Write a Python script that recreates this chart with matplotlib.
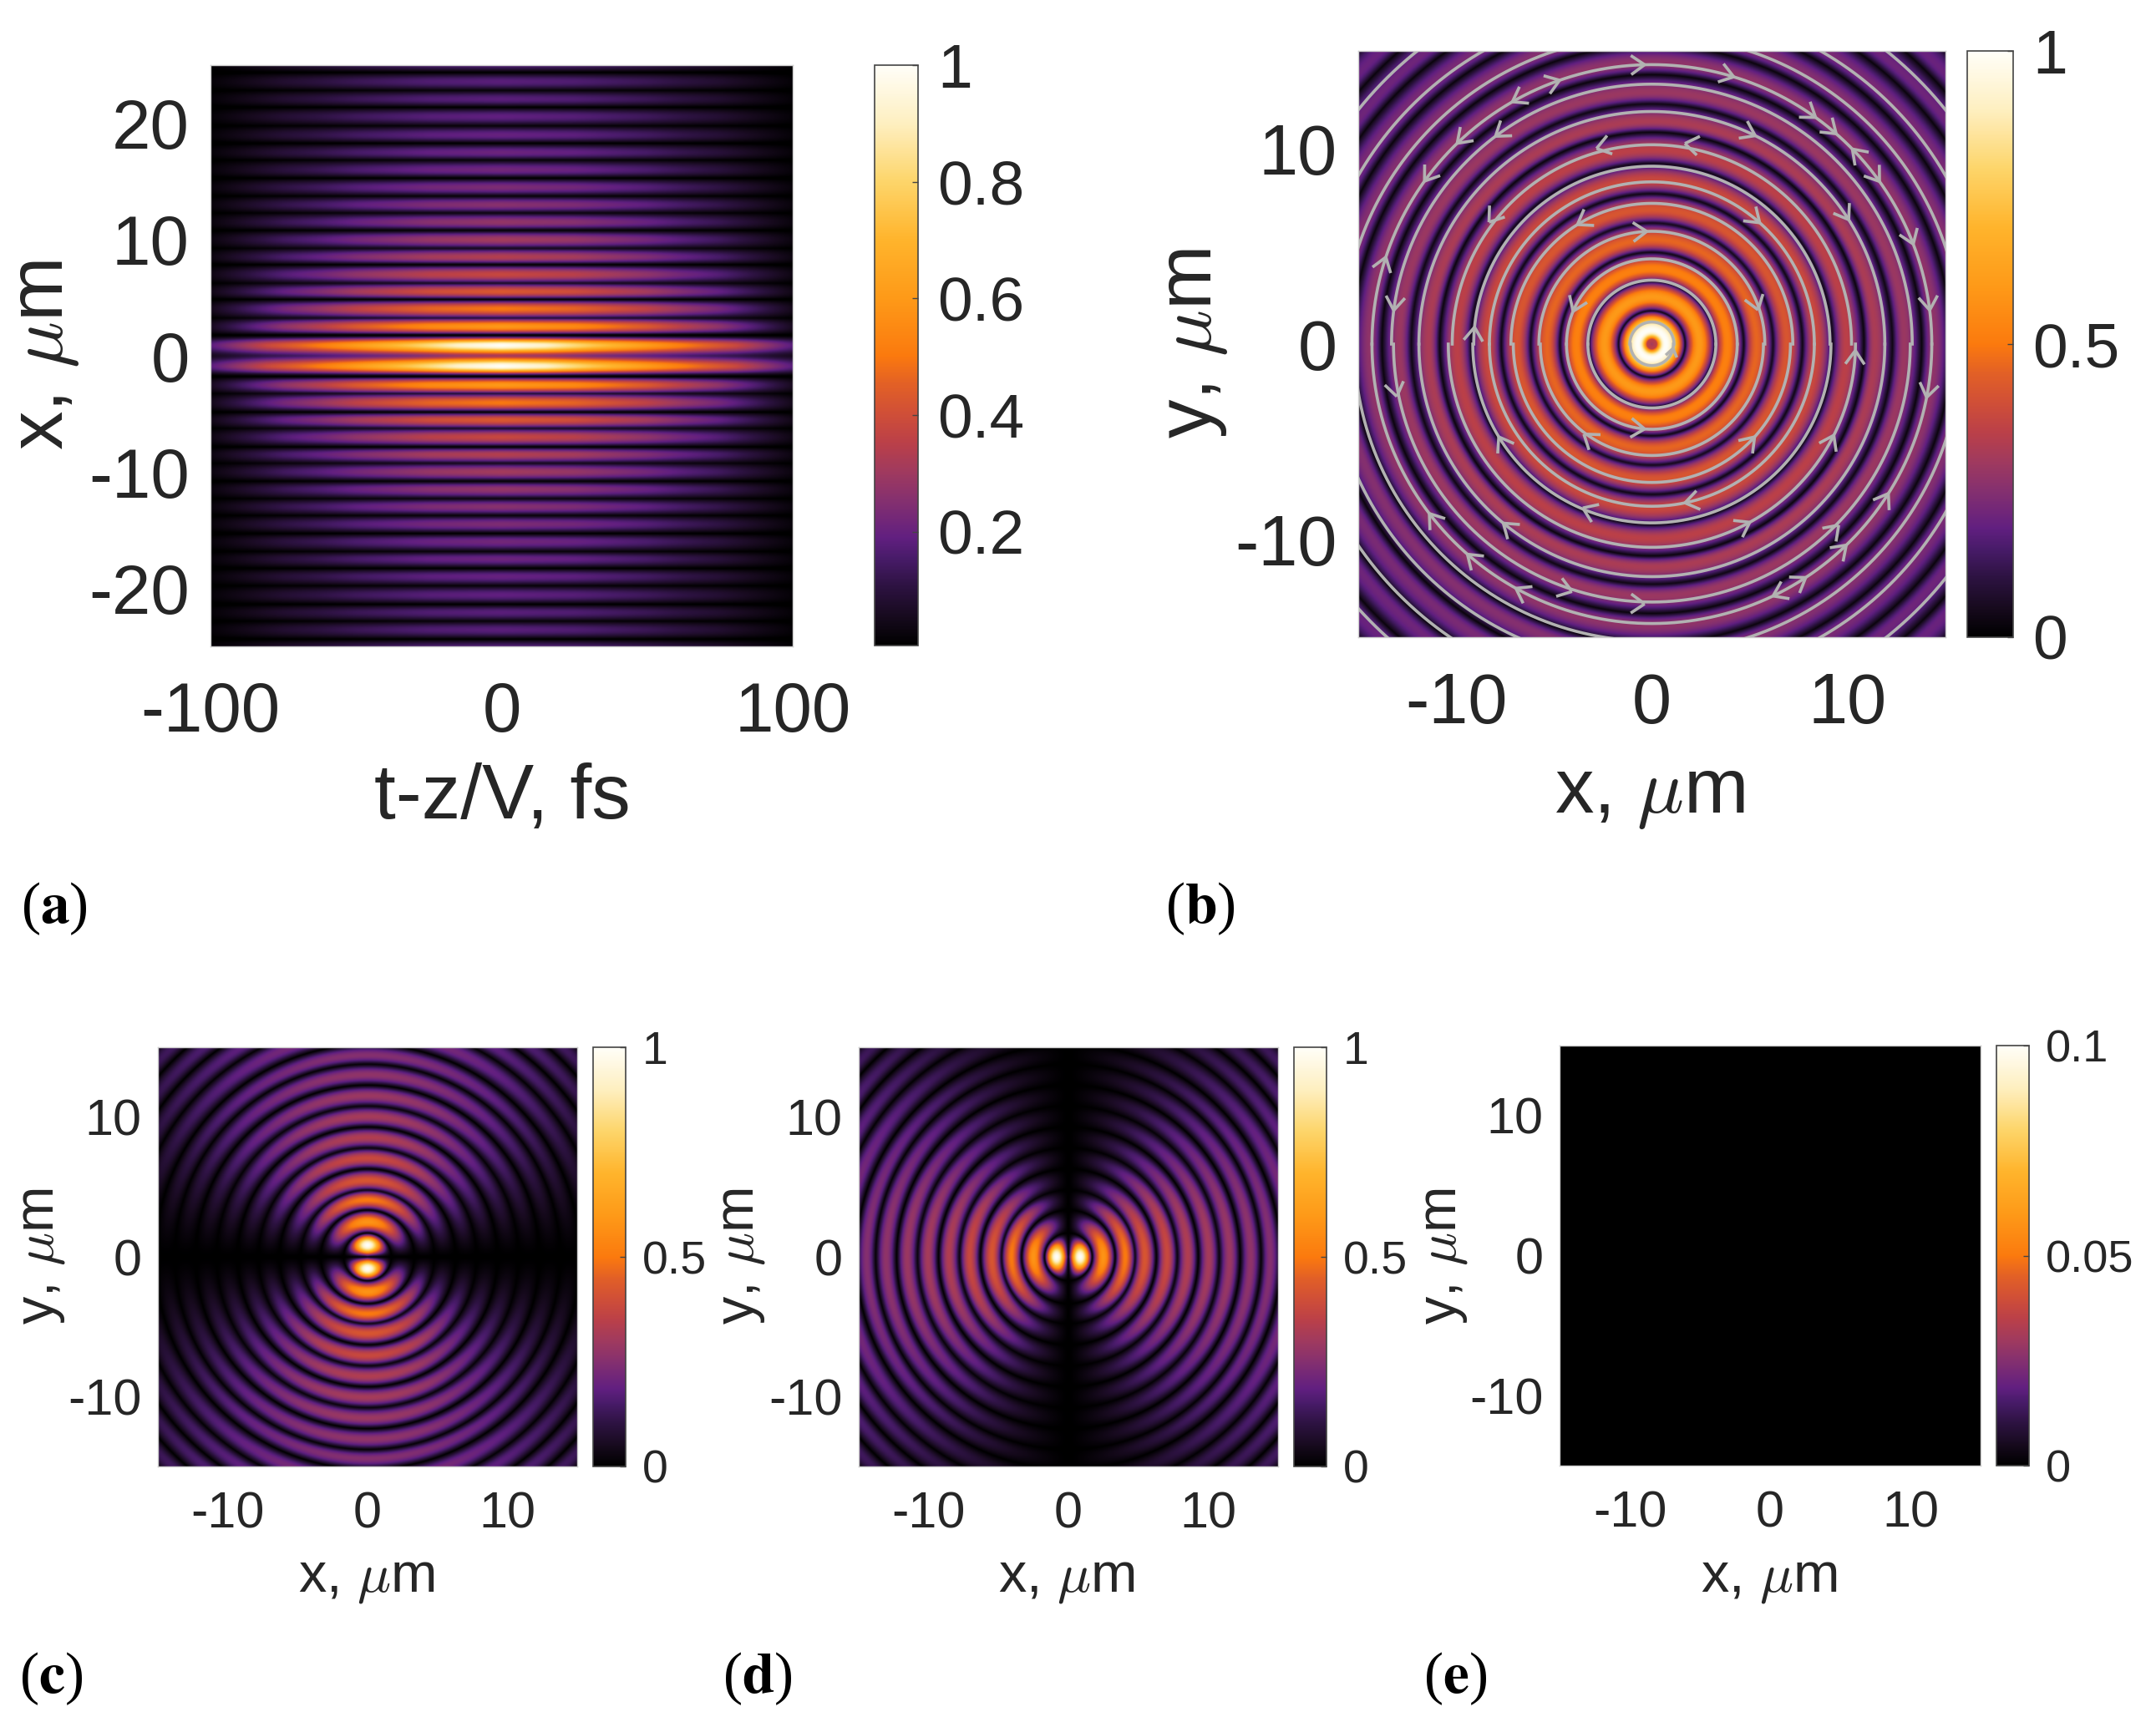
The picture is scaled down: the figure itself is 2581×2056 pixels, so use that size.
import numpy as np
import matplotlib
matplotlib.use("Agg")
import matplotlib.pyplot as plt
from matplotlib.colors import LinearSegmentedColormap

W, H = 2581, 2056
TEXT = "#262626"
plt.rcParams["font.family"] = ["Liberation Sans", "DejaVu Sans"]
plt.rcParams["mathtext.fontset"] = "cm"

# colour scale
cmap_levels = [0, .05, .10, .15, .185, .25, .30, .35, .40, .45, .50, .60, .70, .80, .90, 1]
cmap_colors = ["#000000", "#170a1e", "#2c1240", "#481b69", "#611f80", "#85306f", "#a03a5e",
               "#bb4048", "#d04f37", "#e26026", "#fb7a0e", "#fe9a18", "#ffb42c", "#fdd56a",
               "#feefc0", "#fffef8"]

# panel (a): stripe profile across x (um) and envelopes along t (fs)
a_x = [0, .9, 1.8, 2.52, 3.25, 4.05, 4.85, 5.52, 6.25, 7.0, 7.85, 8.5, 9.25, 10.0, 10.8, 11.5, 12.3,
       13.0, 13.75, 14.5, 15.3, 16.0, 16.85, 17.5, 18.3, 19.0, 19.8, 20.6, 21.4, 22.1, 22.85, 23.6, 24.4, 25.2]
a_val = [.32, 1, 0, .6, .08, .5, 0, .43, .06, .38, 0, .34, .05, .31, .01, .28, .03,
         .26, .02, .24, 0, .22, .02, .21, 0, .2, .02, .19, 0, .18, .02, .18, 0, .18]
a_t_central = [0, 15, 32, 64, 81, 100]
a_env_central = [1, .92, .75, .5, .38, .18]
a_t_outer = [0, 25, 50, 62, 75, 80, 90, 100]
a_env_outer = [1, .92, .72, .58, .45, .38, .24, .1]

# panel (b): total intensity profile against radius (um)
b_r = [0, .25, .7, 1.7, 2.42, 3.2, 3.85, 4.7, 5.35, 6.2, 6.9, 7.7, 8.4, 9.25, 9.95, 10.85, 11.4, 12.3,
       12.9, 13.8, 14.4, 15.3, 15.9, 16.8, 17.4, 18.3, 18.9, 19.8, 20.4, 21.3, 21.9]
b_val = [.3, .35, 1, .03, .6, .06, .52, .03, .46, .04, .42, .03, .38, .04, .35, .02, .32, .03,
         .29, .02, .27, .02, .25, .02, .23, .02, .21, .02, .2, .02, .19]

# panels (c), (d): radial profile, multiplied by the angular dipole pattern
cd_r = [0, .84, 1.7, 2.5, 3.35, 4.08, 4.78, 5.48, 6.3, 7.07, 7.8, 8.56, 9.3, 10.06, 10.8, 11.55,
        12.3, 13.05, 13.8, 14.44, 15.2, 16, 16.8, 17.5, 18.3, 19, 19.8, 20.5, 21.3, 22]
cd_val = [0, 1, 0, .58, 0, .5, .03, .42, 0, .38, .02, .33, 0, .31, .02, .29,
          0, .27, .01, .25, 0, .24, .01, .22, 0, .21, 0, .2, 0, .19]

# panel (b): streamline radii (um)
ring_upper = [1.13, 3.27, 4.36, 5.77, 7.2, 8.3, 9.1, 10.2, 11.9, 13.3, 14.3]
ring_lower = [1.1, 3.27, 4.36, 5.7, 7.08, 8.3, 9.15, 10.4, 11.9, 13.2, 14.3]
ring_outer = [15.8, 17.3, 19.2]
ring_outer_lower_left = [15.2, 16.5, 18.2, 20.2]

# panel (b): arrow positions (um) and sense (+1 clockwise, -1 counter-clockwise)
arrow_x = [-.37, 4.2, -4.73, -7.89, -13.33, 10.09, 13.68, -12.9, -8.1, 5.29, 9.43, 14.0, -2.88, 1.7,
           -8.43, -3.86, 5.51, 9.98, 13.36, -.26, -13.66, -13.33, -9.08, -4.18, 5.4, 10.41, 14.23,
           14.0, -13.22, 1.05, -.37, -3.53, 5.29, -7.89, 9.32, 1.7, -3.53, 5.08, -7.67, -12.14, 9.54,
           13.25, -4.07, -.37, 6.17, 8.67, -7.45, -12.03, 13.25]
arrow_y = [14.34, 13.73, 13.55, 13.73, 13.77, 13.99, 13.33, 9.26, 10.78, 10.68, 10.78, 10.02, 10.2, 10.35,
           6.32, 6.21, 6.21, 6.32, 5.12, 5.77, 4.47, 1.74, .87, 1.74, 1.74, -.33, 1.74,
           -2.72, -2.72, -.22, -4.36, -4.68, -4.79, -4.79, -4.68, -8.17, -8.39, -9.26, -9.26, -9.26, -9.26,
           -8.39, -12.64, -13.29, -12.85, -13.18, -13.4, -13.73, -13.73]
arrow_dir = [1, 1, 1, -1, -1, 1, -1, -1, -1, 1, 1, 1, -1, -1,
             -1, -1, 1, 1, 1, 1, 1, -1, 1, -1, 1, -1, 1,
             1, -1, -1, -1, 1, -1, 1, -1, 1, 1, -1, 1, 1, -1,
             -1, -1, -1, 1, -1, 1, 1, -1]

xy_ticks = [-10, 0, 10]
xy_labels = ["-10", "0", "10"]
a_xticks = [-100, 0, 100]
a_xlabels = ["-100", "0", "100"]
a_yticks = [-20, -10, 0, 10, 20]
a_ylabels = ["-20", "-10", "0", "10", "20"]
a_cticks = [.2, .4, .6, .8, 1]
a_clabels = ["0.2", "0.4", "0.6", "0.8", "1"]
b_cticks = [0, .5, 1]
b_clabels = ["0", "0.5", "1"]
e_cticks = [0, .05, .1]
e_clabels = ["0", "0.05", "0.1"]

cmap = LinearSegmentedColormap.from_list("field", list(zip(cmap_levels, cmap_colors)), N=512)


def profile(r, knots, values, power=1.0):
    knots = np.asarray(knots, float)
    values = np.asarray(values, float)
    i = np.clip(np.searchsorted(knots, r, side="right") - 1, 0, len(knots) - 2)
    t = np.clip((r - knots[i]) / (knots[i + 1] - knots[i]), 0, 1)
    v0, v1 = values[i], values[i + 1]
    rising = v1 >= v0
    u = np.where(rising, t, 1 - t)
    lo = np.minimum(v0, v1)
    hi = np.maximum(v0, v1)
    return lo + (hi - lo) * np.sin(np.pi * u / 2) ** power


def add_ax(x0, y0, x1, y1):
    return fig.add_axes([x0 / W, 1 - y1 / H, (x1 - x0) / W, (y1 - y0) / H])


def style(ax, xt, xl, yt, yl, xlabel, ylabel, xlab_px, ylab_px, fs, lfs, padx, pady):
    ax.set_xticks(xt, xl)
    ax.set_yticks(yt, yl)
    ax.tick_params(length=0, labelsize=fs, labelcolor=TEXT)
    ax.tick_params(axis="x", pad=padx)
    ax.tick_params(axis="y", pad=pady)
    for s in ax.spines.values():
        s.set_color("#cfcfcf")
        s.set_linewidth(1)
    ax.set_xlabel(xlabel, fontsize=lfs, color=TEXT, va="center", ha="center")
    ax.set_ylabel(ylabel, fontsize=lfs, color=TEXT, va="center", ha="center")
    ax.xaxis.set_label_coords(xlab_px[0] / W, 1 - xlab_px[1] / H, transform=fig.transFigure)
    ax.yaxis.set_label_coords(ylab_px[0] / W, 1 - ylab_px[1] / H, transform=fig.transFigure)


def cbar(im, box, ticks, labels, fs, pad):
    cax = add_ax(*box)
    cb = fig.colorbar(im, cax=cax)
    cb.set_ticks(ticks, labels=labels)
    cb.minorticks_off()
    cb.ax.tick_params(direction="in", length=5, width=1, color="#444444", labelsize=fs,
                      labelcolor=TEXT, pad=pad)
    cb.outline.set_edgecolor("#444444")
    cb.outline.set_linewidth(1.2)
    return cb


fig = plt.figure(figsize=(W / 100, H / 100), dpi=100, facecolor="white")
UM = "x, $\\mu$m"
UMY = "y, $\\mu$m"

# ---- (a)
ax = add_ax(252, 78, 949, 774)
t = np.linspace(-100, 100, 400)
x = np.linspace(-25, 25, 1000)
T, X = np.meshgrid(t, x)
central = np.abs(X) < 1.8
P = np.where(central, profile(np.abs(X), a_x, a_val, power=1.6), profile(np.abs(X), a_x, a_val, power=1.0))
Ec = np.interp(np.abs(T), a_t_central, a_env_central)
Eo = np.interp(np.abs(T), a_t_outer, a_env_outer)
Z = P * np.where(central, Ec, Eo)
im = ax.imshow(Z, extent=[-100, 100, -25, 25], origin="lower", aspect="auto", cmap=cmap,
               vmin=.005, vmax=1, interpolation="bilinear")
style(ax, a_xticks, a_xlabels, a_yticks, a_ylabels, "t-z/V, fs", UM, (601, 956), (54, 425), 60, 67, 29.5, 18)
cbar(im, (1047, 78, 1099, 773), a_cticks, a_clabels, 54, 17)

# ---- (b)
g = np.linspace(-15, 15, 1000)
GX, GY = np.meshgrid(g, g)
R = np.hypot(GX, GY)
TH = np.arctan2(GY, GX)

ax = add_ax(1626, 61, 2329, 763)
im = ax.imshow(profile(R, b_r, b_val, power=.9), extent=[-15, 15, -15, 15], origin="lower", aspect="auto",
               cmap=cmap, vmin=0, vmax=1, interpolation="bilinear")
LINE = "#b2b2b2"
LW = 2.6
upper = np.radians(np.linspace(0, 180, 720))
lower = np.radians(np.linspace(180, 360, 720))
for r in ring_upper:
    ax.plot(r * np.cos(upper), r * np.sin(upper), color=LINE, lw=LW)
for r in ring_lower:
    ax.plot(r * np.cos(lower), r * np.sin(lower), color=LINE, lw=LW)
for r in ring_outer:
    th = np.radians(np.linspace(-90, 180, 1200))
    ax.plot(r * np.cos(th), r * np.sin(th), color=LINE, lw=LW)
for r in ring_outer_lower_left:
    th = np.radians(np.linspace(180, 270, 600))
    ax.plot(r * np.cos(th), r * np.sin(th), color=LINE, lw=LW)
all_rings = np.array(ring_upper + ring_lower)
for px, py, d in zip(arrow_x, arrow_y, arrow_dir):
    rr = np.hypot(px, py)
    rr = all_rings[np.argmin(np.abs(all_rings - rr))]
    ang = np.arctan2(py, px)
    tipx, tipy = rr * np.cos(ang), rr * np.sin(ang)
    fw = np.arctan2(-d * np.cos(ang), d * np.sin(ang))
    L = .85 if rr > 2 else .5
    for off in (np.radians(145), -np.radians(145)):
        ax.plot([tipx, tipx + L * np.cos(fw + off)], [tipy, tipy + L * np.sin(fw + off)],
                color=LINE, lw=LW, solid_capstyle="butt")
ax.set_xlim(-15, 15)
ax.set_ylim(-15, 15)
style(ax, xy_ticks, xy_labels, xy_ticks, xy_labels, UM, UMY, (1975, 952), (1429, 411), 61, 67, 29.5, 18)
cbar(im, (2355, 61, 2410, 763), b_cticks, b_clabels, 54, 17)

# ---- (c), (d), (e)
Pc = profile(R, cd_r, cd_val, power=1.0)
sin_part = np.abs(np.sin(TH)) ** 1.2
cos_part = np.abs(np.cos(TH)) ** 1.2
fields = [Pc * sin_part, Pc * cos_part, np.zeros_like(R)]
boxes = [(189, 1254, 691, 1756), (1028, 1254, 1530, 1756), (1867, 1252, 2371, 1755)]
cboxes = [(710, 1254, 749, 1756), (1549, 1254, 1588, 1756), (2390, 1252, 2429, 1755)]
vmaxes = [1, 1, .1]
cticks = [b_cticks, b_cticks, e_cticks]
clabels = [b_clabels, b_clabels, e_clabels]
cfs = [40, 40, 39]
xlabs = [(439, 1891), (1277, 1891), (2118, 1891)]
ylabs = [(49, 1504), (887, 1504), (1728, 1504)]
for F, bx, cbx, vm, ct, cl, xl, yl, cf in zip(fields, boxes, cboxes, vmaxes, cticks, clabels, xlabs, ylabs, cfs):
    ax = add_ax(*bx)
    im = ax.imshow(F, extent=[-15, 15, -15, 15], origin="lower", aspect="auto", cmap=cmap,
                   vmin=0, vmax=vm, interpolation="bilinear")
    style(ax, xy_ticks, xy_labels, xy_ticks, xy_labels, UM, UMY, xl, yl, 44, 48, 21, 14)
    cbar(im, cbx, ct, cl, cf, 14)

# ---- panel letters
letters = ["a", "b", "c", "d", "e"]
letter_px = [(65, 1088), (1437, 1088), (61, 2010), (907, 2010), (1742, 2010)]
for s, (px, py) in zip(letters, letter_px):
    fig.text(px / W, 1 - py / H, "($\\mathbf{%s}$)" % s, fontsize=50, family="Liberation Serif",
             math_fontfamily="stix", color="black", ha="center", va="center")

fig.savefig("out.png", dpi=100, facecolor="white")
